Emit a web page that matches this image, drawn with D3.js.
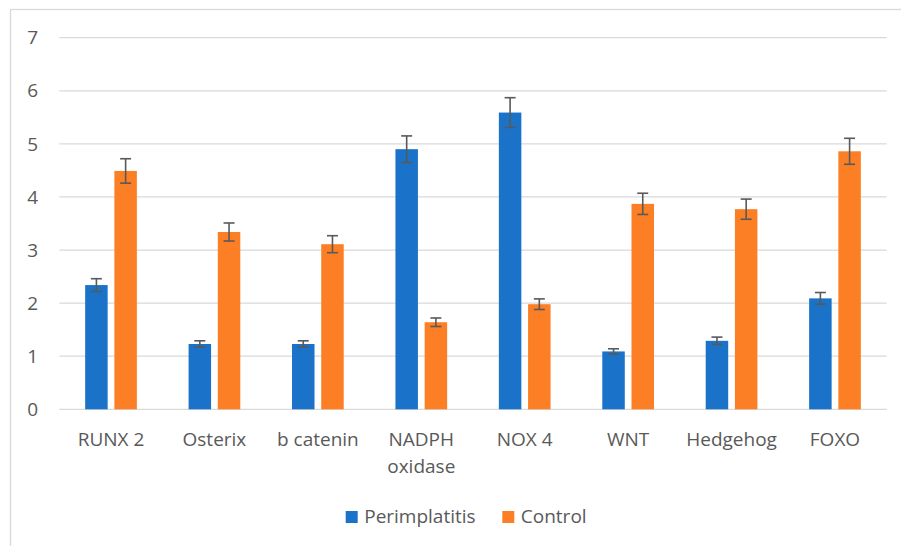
<!DOCTYPE html>
<html>
<head>
<meta charset="utf-8">
<script src="https://cdn.jsdelivr.net/npm/d3@7"></script>
<style>
  body { margin: 0; background: #fff; }
  svg { display: block; }
</style>
</head>
<body>
<div id="chart"></div>
<script>
const categories = ["RUNX 2", "Osterix", "b catenin", "NADPH oxidase", "NOX 4", "WNT", "Hedgehog", "FOXO"];
const seriesNames = ["Perimplatitis", "Control"];
const perimplatitis = [2.34, 1.23, 1.23, 4.90, 5.59, 1.09, 1.29, 2.09];
const perimplatitisErr = [0.12, 0.06, 0.06, 0.25, 0.28, 0.05, 0.07, 0.11];
const control = [4.49, 3.34, 3.11, 1.64, 1.98, 3.87, 3.77, 4.86];
const controlErr = [0.23, 0.17, 0.16, 0.08, 0.10, 0.20, 0.19, 0.245];
const yTicks = [0, 1, 2, 3, 4, 5, 6, 7];

const width = 901;
const height = 546;
const colors = ["#1a73c8", "#fd7f25"];
const textColor = "#595959";
const gridColor = "#d9d9d9";

const rows = categories.map((c, i) => ({
  cat: c,
  bars: [
    {s: 0, v: perimplatitis[i], e: perimplatitisErr[i]},
    {s: 1, v: control[i], e: controlErr[i]}
  ]
}));

const svg = d3.select("#chart").append("svg")
    .attr("width", width)
    .attr("height", height)
    .style("font-family", "'Open Sans', sans-serif");

// chart area border
svg.append("rect")
    .attr("x", 10.5).attr("y", 9.5)
    .attr("width", 900).attr("height", 545)
    .attr("fill", "none")
    .attr("stroke", gridColor)
    .attr("stroke-width", 1.3);

const x0 = d3.scaleBand()
    .domain(categories)
    .range([59.3, 886.7])
    .paddingInner(0.5)
    .paddingOuter(0.25);

const x1 = d3.scaleBand()
    .domain([0, 1])
    .range([0, x0.bandwidth()])
    .paddingInner(0.23);

const y = d3.scaleLinear()
    .domain([0, 7])
    .range([409.3, 37.7]);

// gridlines
svg.append("g")
    .selectAll("line")
    .data(yTicks)
    .join("line")
    .attr("x1", 59.3).attr("x2", 886.7)
    .attr("y1", d => y(d)).attr("y2", d => y(d))
    .attr("stroke", gridColor)
    .attr("stroke-width", 1.3);

// y tick labels
svg.append("g")
    .selectAll("text")
    .data(yTicks)
    .join("text")
    .attr("x", 38)
    .attr("y", d => y(d))
    .attr("dy", "0.35em")
    .attr("text-anchor", "end")
    .attr("fill", textColor)
    .style("font-size", "19px")
    .text(d => d);

// bars
const groups = svg.append("g")
    .selectAll("g")
    .data(rows)
    .join("g")
    .attr("transform", d => `translate(${x0(d.cat)},0)`);

groups.selectAll("rect")
    .data(d => d.bars)
    .join("rect")
    .attr("x", d => x1(d.s))
    .attr("y", d => y(d.v))
    .attr("width", x1.bandwidth())
    .attr("height", d => y(0) - y(d.v))
    .attr("fill", d => colors[d.s]);

// error bars
const err = groups.selectAll("g.err")
    .data(d => d.bars)
    .join("g")
    .attr("class", "err")
    .attr("stroke", "#595959")
    .attr("stroke-width", 1.6);

err.append("line")
    .attr("x1", d => x1(d.s) + x1.bandwidth() / 2)
    .attr("x2", d => x1(d.s) + x1.bandwidth() / 2)
    .attr("y1", d => y(d.v + d.e))
    .attr("y2", d => y(d.v - d.e));

err.selectAll("line.cap")
    .data(d => [d.v + d.e, d.v - d.e].map(v => ({s: d.s, v})))
    .join("line")
    .attr("class", "cap")
    .attr("x1", d => x1(d.s) + x1.bandwidth() / 2 - 5.5)
    .attr("x2", d => x1(d.s) + x1.bandwidth() / 2 + 5.5)
    .attr("y1", d => y(d.v))
    .attr("y2", d => y(d.v));

// x labels (wrap two-word long label)
svg.append("g")
    .selectAll("text")
    .data(categories)
    .join("text")
    .attr("x", d => x0(d) + x0.bandwidth() / 2)
    .attr("y", 446)
    .attr("text-anchor", "middle")
    .attr("fill", textColor)
    .style("font-size", "19px")
    .each(function(d) {
      const lines = d === "NADPH oxidase" ? ["NADPH", "oxidase"] : [d];
      d3.select(this).selectAll("tspan")
        .data(lines)
        .join("tspan")
        .attr("x", x0(d) + x0.bandwidth() / 2)
        .attr("dy", (l, i) => i === 0 ? 0 : 27)
        .text(l => l);
    });

// legend
const legendX = [345.7, 502.3];
const legend = svg.append("g")
    .selectAll("g")
    .data(seriesNames)
    .join("g")
    .attr("transform", (d, i) => `translate(${legendX[i]},511)`);

legend.append("rect")
    .attr("width", 12).attr("height", 12)
    .attr("fill", (d, i) => colors[i]);

legend.append("text")
    .attr("x", 18.5)
    .attr("y", 12)
    .attr("fill", textColor)
    .style("font-size", "19px")
    .text(d => d);
</script>
</body>
</html>
